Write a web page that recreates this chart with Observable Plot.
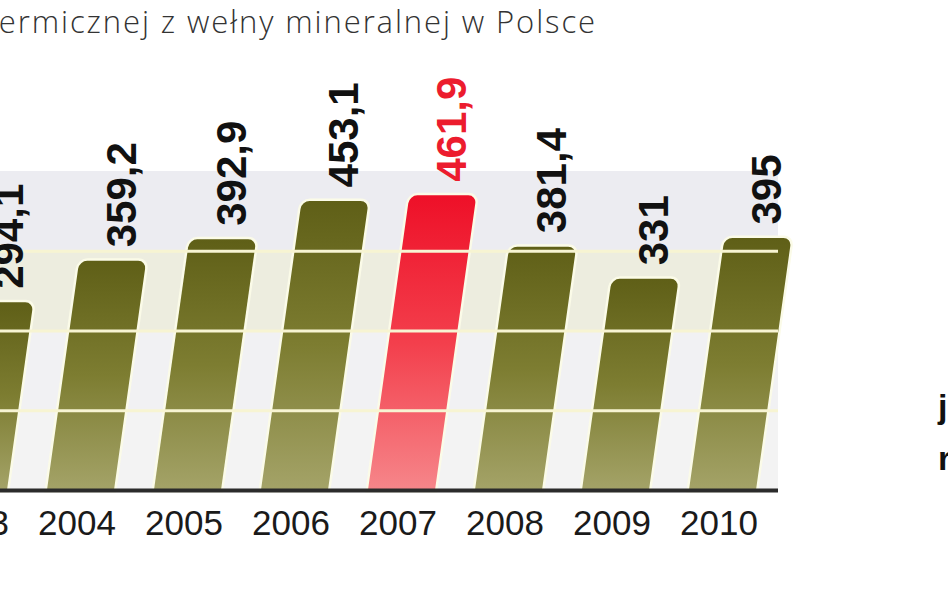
<!DOCTYPE html>
<html><head><meta charset="utf-8">
<script src="https://cdn.jsdelivr.net/npm/d3@7"></script>
<script src="https://cdn.jsdelivr.net/npm/@observablehq/plot@0.6"></script>
<style>
html,body{margin:0;padding:0;background:#fff;}
#wrap{position:relative;width:948px;height:593px;overflow:hidden;background:#fff;}
#chart{position:absolute;left:0;top:0;}
#title{position:absolute;right:351px;top:1px;white-space:nowrap;font-family:"Open Sans",sans-serif;font-weight:300;font-size:31px;letter-spacing:1.9px;line-height:40px;color:#333;}
#side{position:absolute;left:938px;top:380px;font-family:"Liberation Sans",Arial,sans-serif;font-weight:bold;font-size:34px;line-height:52px;color:#111;}
</style></head><body>
<div id="wrap"><div id="chart"></div><div id="title">termicznej z wełny mineralnej w Polsce</div><div id="side">j<br>r</div></div>
<script>
const years = ["2003","2004","2005","2006","2007","2008","2009","2010"];
const values = [294.1, 359.2, 392.9, 453.1, 461.9, 381.4, 331, 395];
const valueLabels = ["294,1","359,2","392,9","453,1","461,9","381,4","331","395"];
const highlightYear = "2007";
const gridValues = [125, 250, 375];
const bandLows = [0, 125, 250, 375];
const bandHighs = [125, 250, 375, 500];
const bandColors = ["#f3f3f3", "#f1f1f3", "#ededdf", "#ececf1"];

const data = years.map((y, i) => ({year: y, value: values[i], label: valueLabels[i], hi: y === highlightYear}));
const bands = bandLows.map((l, i) => ({y1: l, y2: bandHighs[i], fill: bandColors[i]}));

const SKEW = 8;
const barOpts = {x: "year", y: "value", ry1: 8, stroke: "#fbfbe8", strokeWidth: 5, paintOrder: "stroke"};

const chart = Plot.plot({
  width: 948, height: 593,
  marginTop: 171, marginBottom: 103, marginLeft: 0, marginRight: 170,
  x: {domain: years, range: [-82, 778], paddingInner: 0.377, paddingOuter: 0.1885},
  y: {domain: [0, 500], axis: null},
  style: {background: "transparent", fontFamily: "'Liberation Sans', Arial, sans-serif"},
  marks: [
    Plot.rectY(bands, {y1: "y1", y2: "y2", fill: "fill"}),
    Plot.barY(data.filter(d => !d.hi), {...barOpts, fill: "url(#gGreen)"}),
    Plot.barY(data.filter(d => d.hi), {...barOpts, fill: "url(#gRed)"}),
    Plot.ruleY(gridValues, {stroke: "#f7f4d2", strokeWidth: 3}),
    Plot.ruleY([0], {stroke: "#2b2b2b", strokeWidth: 4}),
    Plot.text(data, {x: "year", y: "value", text: "label", rotate: -90, textAnchor: "start", lineAnchor: "middle",
      dx: 9, dy: -14, fontSize: 42, fontWeight: "bold", fill: d => d.hi ? "#ec1c2e" : "#111111"}),
    Plot.axisX({tickSize: 0, tickPadding: 20, fontSize: 35, fill: "#1a1a1a", dx: -4, label: null})
  ]
});
document.getElementById("chart").appendChild(chart);

const svg = d3.select(chart);
const defs = svg.insert("defs", ":first-child");
const gg = defs.append("linearGradient").attr("id", "gGreen").attr("x1", 0).attr("y1", 0).attr("x2", 0).attr("y2", 1);
gg.append("stop").attr("offset", 0).attr("stop-color", "#5f5f17");
gg.append("stop").attr("offset", 0.5).attr("stop-color", "#7d7d31");
gg.append("stop").attr("offset", 1).attr("stop-color", "#a4a368");
const gr = defs.append("linearGradient").attr("id", "gRed").attr("x1", 0).attr("y1", 0).attr("x2", 0).attr("y2", 1);
gr.append("stop").attr("offset", 0).attr("stop-color", "#ee1028");
gr.append("stop").attr("offset", 0.5).attr("stop-color", "#f33f4c");
gr.append("stop").attr("offset", 1).attr("stop-color", "#f6868a");

const base = chart.scale("y").apply(0);
const k = Math.tan(SKEW * Math.PI / 180);
svg.selectAll('g[aria-label="bar"]').each(function() {
  const g = d3.select(this);
  const t = g.attr("transform") || "";
  g.attr("transform", `translate(0,${base}) skewX(${-SKEW}) translate(0,${-base}) ${t}`);
});
svg.selectAll('g[aria-label="text"] text').each(function() {
  const el = d3.select(this);
  const t = el.attr("transform") || "";
  const m = t.match(/translate\(([-\d.e]+),\s*([-\d.e]+)\)/);
  if (m) {
    const x = +m[1], y = +m[2];
    el.attr("transform", t.replace(m[0], `translate(${x + k * (base - y)},${y})`));
  }
});
</script>
</body></html>
